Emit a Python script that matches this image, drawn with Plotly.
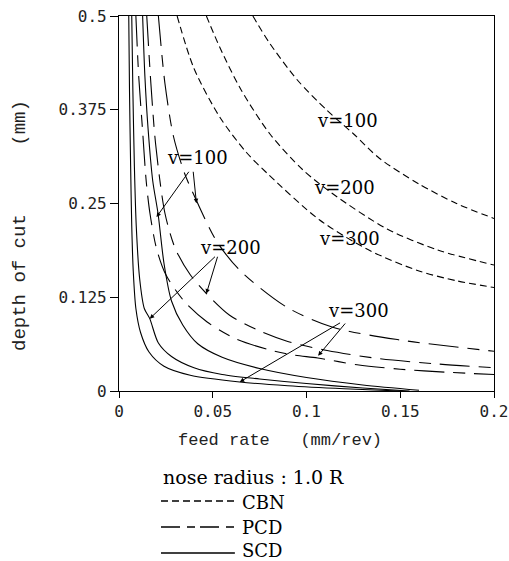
import plotly.graph_objects as go

# ---------------- data ----------------
# CBN (short dashed)
cbn100_x = [0.0714, 0.080, 0.095, 0.111, 0.125, 0.139, 0.160, 0.180, 0.200]
cbn100_y = [0.500, 0.465, 0.415, 0.374, 0.343, 0.310, 0.276, 0.250, 0.230]
cbn200_x = [0.0466, 0.0538, 0.065, 0.0804, 0.098, 0.114, 0.143, 0.170, 0.200]
cbn200_y = [0.500, 0.458, 0.402, 0.343, 0.295, 0.263, 0.216, 0.188, 0.168]
cbn300_x = [0.031, 0.040, 0.0538, 0.068, 0.080, 0.107, 0.134, 0.160, 0.180, 0.200]
cbn300_y = [0.500, 0.430, 0.365, 0.318, 0.288, 0.228, 0.187, 0.160, 0.147, 0.138]

# PCD (long dashed)
pcd100_x = [0.021, 0.0245, 0.029, 0.035, 0.0413, 0.052, 0.0644, 0.0893, 0.114, 0.150, 0.200]
pcd100_y = [0.500, 0.410, 0.340, 0.290, 0.254, 0.200, 0.161, 0.112, 0.085, 0.068, 0.053]
pcd200_x = [0.0148, 0.017, 0.0195, 0.0245, 0.030, 0.038, 0.0466, 0.059, 0.075, 0.090, 0.111, 0.139, 0.170, 0.200]
pcd200_y = [0.500, 0.410, 0.330, 0.237, 0.190, 0.155, 0.130, 0.101, 0.080, 0.066, 0.054, 0.043, 0.036, 0.031]
pcd300_x = [0.009, 0.0105, 0.0125, 0.0145, 0.0165, 0.020, 0.025, 0.035, 0.047, 0.062, 0.080, 0.093, 0.106, 0.127, 0.150, 0.175, 0.200]
pcd300_y = [0.500, 0.420, 0.350, 0.280, 0.237, 0.190, 0.155, 0.119, 0.092, 0.070, 0.055, 0.048, 0.044, 0.035, 0.029, 0.025, 0.022]

# SCD (solid)
scd100_x = [0.0126, 0.0138, 0.0155, 0.018, 0.0208, 0.024, 0.028, 0.034, 0.042, 0.055, 0.075, 0.100, 0.130, 0.160]
scd100_y = [0.500, 0.420, 0.350, 0.280, 0.237, 0.170, 0.120, 0.088, 0.063, 0.045, 0.030, 0.018, 0.008, 0.001]
scd200_x = [0.0068, 0.0074, 0.0082, 0.0092, 0.011, 0.0135, 0.0164, 0.021, 0.028, 0.040, 0.055, 0.075, 0.100, 0.130, 0.155]
scd200_y = [0.500, 0.400, 0.300, 0.220, 0.150, 0.110, 0.0965, 0.064, 0.046, 0.031, 0.022, 0.016, 0.010, 0.004, 0.000]
scd300_x = [0.0052, 0.0056, 0.0062, 0.0068, 0.0076, 0.0090, 0.0115, 0.016, 0.024, 0.038, 0.0644, 0.090, 0.120, 0.150]
scd300_y = [0.500, 0.400, 0.300, 0.220, 0.160, 0.110, 0.078, 0.052, 0.033, 0.021, 0.012, 0.007, 0.003, 0.000]

# labels: text, label position, arrow tails, arrow tips
cbn_labels = ["v=100", "v=200", "v=300"]
cbn_label_x = [0.122, 0.1204, 0.123]
cbn_label_y = [0.361, 0.2716, 0.2036]

pair_labels = ["v=100", "v=200", "v=300"]
pair_label_x = [0.0416, 0.0592, 0.1276]
pair_label_y = [0.311, 0.192, 0.1076]
tail1 = [(0.0378, 0.2943), (0.052, 0.181), (0.1187, 0.092)]
tip1 = [(0.0200, 0.232), (0.0164, 0.0965), (0.0644, 0.012)]
tail2 = [(0.0395, 0.2943), (0.0528, 0.181), (0.1213, 0.092)]
tip2 = [(0.0413, 0.2503), (0.0466, 0.1299), (0.1062, 0.047)]

x_ticks = [0, 0.05, 0.1, 0.15, 0.2]
x_tick_text = ["0", "0.05", "0.1", "0.15", "0.2"]
y_ticks = [0, 0.125, 0.25, 0.375, 0.5]
y_tick_text = ["0", "0.125", "0.25", "0.375", "0.5"]

# ---------------- figure ----------------
CBN_DASH = "7px,4px"
PCD_DASH = "30px,9px,12px,9px"

fig = go.Figure()

def add_curve(xs, ys, dash, name):
    fig.add_trace(go.Scatter(x=xs, y=ys, mode="lines", name=name,
                             line=dict(color="black", width=1.1, dash=dash, shape="spline", smoothing=0.8),
                             showlegend=False, hoverinfo="skip"))

add_curve(cbn100_x, cbn100_y, CBN_DASH, "CBN v=100")
add_curve(cbn200_x, cbn200_y, CBN_DASH, "CBN v=200")
add_curve(cbn300_x, cbn300_y, CBN_DASH, "CBN v=300")
add_curve(pcd100_x, pcd100_y, PCD_DASH, "PCD v=100")
add_curve(pcd200_x, pcd200_y, PCD_DASH, "PCD v=200")
add_curve(pcd300_x, pcd300_y, PCD_DASH, "PCD v=300")
add_curve(scd100_x, scd100_y, "solid", "SCD v=100")
add_curve(scd200_x, scd200_y, "solid", "SCD v=200")
add_curve(scd300_x, scd300_y, "solid", "SCD v=300")

TICKFONT = dict(family="DejaVu Sans Mono", size=16, color="#222")
LABELFONT = dict(family="DejaVu Serif", size=18, color="black")
TITLEFONT = dict(family="Liberation Mono", size=17, color="#222")
LEGFONT = dict(family="DejaVu Serif", size=18, color="black")

for t, lx, ly in zip(cbn_labels, cbn_label_x, cbn_label_y):
    fig.add_annotation(x=lx, y=ly, text=t, showarrow=False, font=LABELFONT)

for i, t in enumerate(pair_labels):
    fig.add_annotation(x=pair_label_x[i], y=pair_label_y[i], text=t, showarrow=False, font=LABELFONT)
    for tail, tip in ((tail1[i], tip1[i]), (tail2[i], tip2[i])):
        fig.add_annotation(x=tip[0], y=tip[1], ax=tail[0], ay=tail[1], axref="x", ayref="y",
                           text="", showarrow=True, arrowhead=2, arrowsize=0.9, arrowwidth=1,
                           arrowcolor="black", standoff=0, startstandoff=0)

# axis titles
fig.add_annotation(xref="paper", yref="paper", x=0.429, y=-0.131, xanchor="center", yanchor="middle",
                   text="feed rate   (mm/rev)", showarrow=False, font=TITLEFONT)
fig.add_annotation(xref="paper", yref="paper", x=-0.264, y=0.44, xanchor="center", yanchor="middle",
                   text="depth of cut      (mm)", showarrow=False,
                   font=dict(family="Liberation Mono", size=19, color="#222"), textangle=-90)

# legend block
fig.add_annotation(xref="paper", yref="paper", x=0.112, y=-0.229, xanchor="left", yanchor="middle",
                   text="nose radius : 1.0 R", showarrow=False, font=dict(family="DejaVu Serif", size=19, color="black"))
legend_names = ["CBN", "PCD", "SCD"]
legend_dash = [CBN_DASH, "19px,7px,8px,5px", "solid"]
legend_line_y = [-0.2933, -0.3627, -0.432]
legend_text_y = [-0.2960, -0.3650, -0.4240]
for nm, ds, ly, ty in zip(legend_names, legend_dash, legend_line_y, legend_text_y):
    fig.add_shape(type="line", xref="paper", yref="paper", x0=0.112, x1=0.309, y0=ly, y1=ly,
                  line=dict(color="black", width=1.3, dash=ds))
    fig.add_annotation(xref="paper", yref="paper", x=0.323, y=ty, xanchor="left", yanchor="middle",
                       text=nm, showarrow=False, font=LEGFONT)

fig.update_xaxes(range=[0, 0.2], tickvals=x_ticks, ticktext=x_tick_text, ticks="outside", ticklen=6,
                 tickwidth=1, tickcolor="black", showline=True, linecolor="black", linewidth=1.2,
                 mirror=True, showgrid=False, zeroline=False, tickfont=TICKFONT, automargin=False,
                 ticklabeloverflow="allow")
fig.update_yaxes(range=[0, 0.5], tickvals=y_ticks, ticktext=y_tick_text, ticks="outside", ticklen=8,
                 tickwidth=1, tickcolor="black", showline=True, linecolor="black", linewidth=1.2,
                 mirror=True, showgrid=False, zeroline=False, tickfont=TICKFONT, automargin=False,
                 ticklabeloverflow="allow")

fig.update_layout(width=509, height=561, margin=dict(l=119, r=15, t=16, b=170, autoexpand=False),
                  plot_bgcolor="white", paper_bgcolor="white", showlegend=False)

fig.write_html("out.html", config={"displayModeBar": False},
               post_script="document.body.style.margin='0px';document.body.style.overflow='hidden';")
